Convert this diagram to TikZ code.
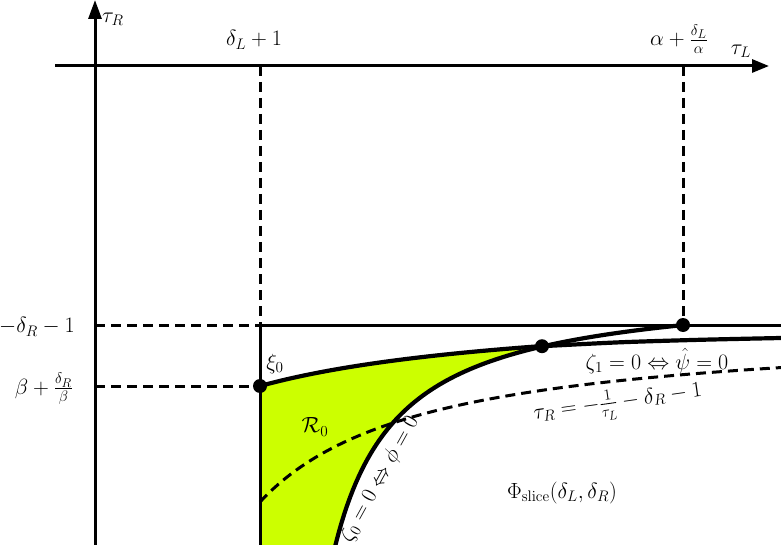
\documentclass[tikz,border=0pt]{standalone}
\usepackage{amsmath,amssymb}
\usetikzlibrary{arrows.meta}
\definecolor{regfill}{RGB}{204,255,0}
\begin{document}
\begin{tikzpicture}[x=1pt,y=-1pt,
  thinline/.style={line width=3pt},
  dashline/.style={line width=3pt, dash pattern=on 10pt off 6pt},
  curve/.style={line width=4.2pt, line cap=round},
  lbl/.style={font=\huge, inner sep=0pt, scale=1.06, transform shape},
  dot/.style={circle, fill=black, inner sep=0pt, minimum size=14pt}]
\useasboundingbox (0,0) rectangle (781,545);
% key points
\coordinate (xtip) at (769,66);
\coordinate (xstart) at (55,66);
\coordinate (ytip) at (95,0);
\coordinate (ybot) at (95,545);
\coordinate (tdl) at (260,66);
\coordinate (tal) at (683,66);
\coordinate (hl) at (95,325);
\coordinate (hm) at (260,325);
\coordinate (hr) at (781,325);
\coordinate (bl) at (95,386);
\coordinate (vb) at (260,545);
% region
\fill[regfill] (260,545) -- (260,386)
  -- plot[domain=260:542, samples=60] (\x, {303.5+247.6/((\x+40)/100)})
  -- plot[domain=542:335.4, samples=80] (\x, {283.7+171/((\x-270)/100)})
  -- cycle;
% dots (named) first so lines can refer to them
\coordinate (xi0) at (260,386);
\coordinate (p1) at (542,346.2);
\coordinate (p2) at (683,325);
% dashed guides
\draw[dashline] (tdl) -- (hm);
\draw[dashline] (tal) -- (p2);
\draw[dashline] (hl) -- (hm);
\draw[dashline] (bl) -- (xi0);
% dashed hyperbola
\draw[dashline] plot[domain=260:781, samples=120] (\x, {325+292/((\x-95)/100)});
% solid lines
\draw[thinline] (hm) -- (hr);
\draw[thinline] (hm) -- (vb);
% curves
\draw[curve] plot[domain=260:542, samples=60] (\x, {303.5+247.6/((\x+40)/100)});
\draw[curve] plot[smooth] coordinates {(542,346.2) (620,342.3) (700,339.8) (781,338)};
\draw[curve] plot[domain=335.4:683, samples=120] (\x, {283.7+171/((\x-270)/100)});
% axes
\draw[thinline, -{Triangle[length=17pt,width=13pt]}] (xstart) -- (xtip);
\draw[thinline, -{Triangle[length=19pt,width=13pt]}] (ybot) -- (ytip);
% dots
\node[dot] at (xi0) {};
\node[dot] at (p1) {};
\node[dot] at (p2) {};
% labels
\node[lbl, anchor=west] (tR) at (102,19) {$\tau_R$};
\node[lbl] (dl1) at (254,40) {$\delta_L+1$};
\node[lbl] (adl) at (679,39) {$\alpha+\frac{\delta_L}{\alpha}$};
\node[lbl] (tL) at (741,51) {$\tau_L$};
\node[lbl] (mdr) at (37,327) {$-\delta_R-1$};
\node[lbl] (bdr) at (44,389) {$\beta+\frac{\delta_R}{\beta}$};
\node[lbl] (xil) at (275,364) {$\xi_0$};
\node[lbl] (R0) at (315,427) {$\mathcal{R}_0$};
\node[lbl] (z1) at (657,361) {$\zeta_1=0\Leftrightarrow\hat{\psi}=0$};
\node[lbl, rotate=8] (hyp) at (618,404) {$\tau_R=-\frac{1}{\tau_L}-\delta_R-1$};
\node[lbl, rotate=61] (z0) at (380,479) {$\zeta_0=0\Leftrightarrow\phi=0$};
\node[lbl] (phi) at (562,493) {$\Phi_{\mathrm{slice}}(\delta_L,\delta_R)$};
\end{tikzpicture}
\end{document}
